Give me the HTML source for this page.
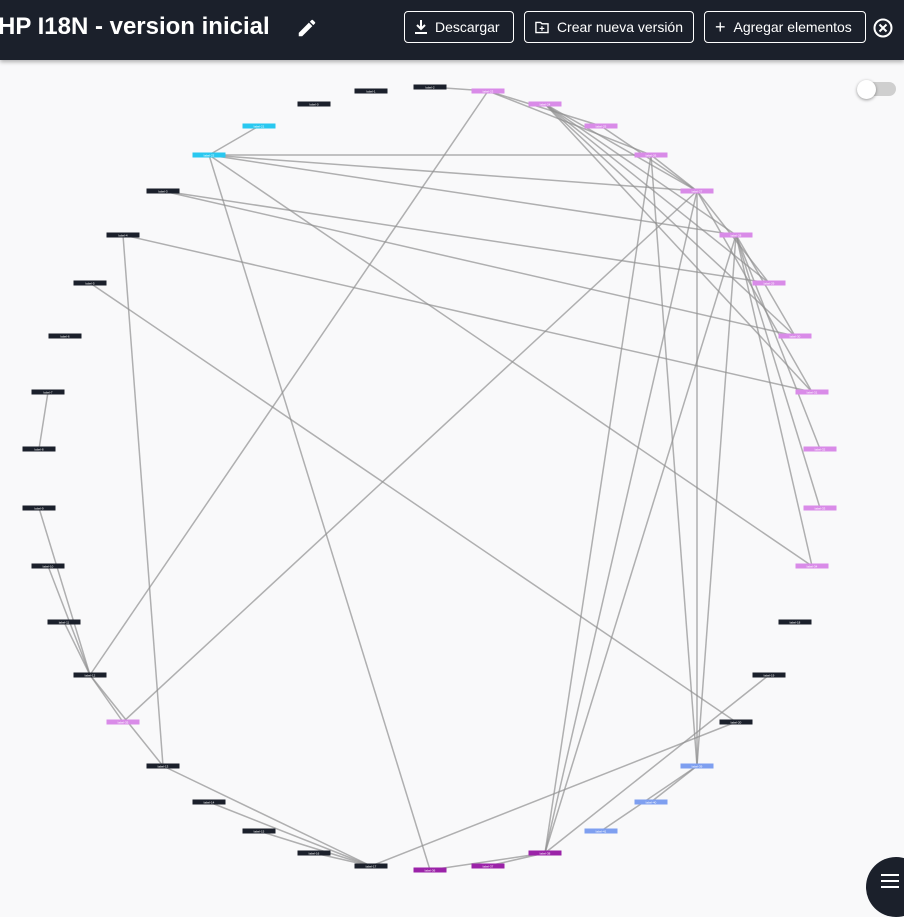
<!DOCTYPE html>
<html><head><meta charset="utf-8"><style>
html,body{margin:0;padding:0;width:904px;height:904px;overflow:hidden;background:#f9f9fa;font-family:"Liberation Sans",sans-serif}
#hdr{position:absolute;left:0;top:0;width:904px;height:60px;background:#1b202b;box-shadow:0 2px 4px rgba(0,0,0,.3)}
#title{position:absolute;left:-2px;top:13px;color:#fff;font-weight:bold;font-size:24px;white-space:nowrap}
.btn{position:absolute;top:11px;height:32px;border:1px solid #fff;border-radius:4px;color:#fff;font-size:14px;box-sizing:border-box;display:flex;align-items:center;padding:0 10px;gap:8px;white-space:nowrap}
#toggle{position:absolute;left:860px;top:82px;width:36px;height:14px;border-radius:7px;background:#cfcfcf}
#knob{position:absolute;left:857px;top:80px;width:19px;height:19px;border-radius:50%;background:#fff;box-shadow:0 1px 3px rgba(0,0,0,.4)}
#menu{position:absolute;left:866px;top:857px;width:60px;height:60px;border-radius:30px;background:#1b202b}
</style></head><body>
<svg id="graph" width="904" height="904" style="position:absolute;left:0;top:0"></svg>
<div id="hdr">
<div id="title">HP I18N - version inicial</div>
<svg style="position:absolute;left:296px;top:17px" width="22" height="22" viewBox="0 0 24 24"><path fill="#fff" d="M3 17.25V21h3.75L17.81 9.94l-3.75-3.75L3 17.25zM20.71 7.04a1 1 0 000-1.41l-2.34-2.34a1 1 0 00-1.41 0l-1.83 1.83 3.75 3.75 1.83-1.83z"/></svg>
<div class="btn" style="left:404px;width:110px"><svg width="12" height="14" viewBox="0 0 12 14"><path d="M6 0v8M2 5l4 4 4-4M0 13h12" stroke="#fff" stroke-width="2" fill="none"/></svg>Descargar</div>
<div class="btn" style="left:524px;width:170px"><svg width="15" height="13" viewBox="0 0 15 13"><path d="M1 1h5l1.5 1.5H14v9.5H1z" stroke="#fff" stroke-width="1.5" fill="none"/><path d="M7.5 5v5M5 7.5h5" stroke="#fff" stroke-width="1.3"/></svg>Crear nueva versión</div>
<div class="btn" style="left:704px;width:162px"><span style="font-size:18px">+</span>Agregar elementos</div>
<svg style="position:absolute;left:872px;top:17px" width="22" height="22" viewBox="0 0 22 22"><circle cx="11" cy="11" r="8.5" fill="none" stroke="#fff" stroke-width="2"/><path d="M7.5 7.5L14.5 14.5M14.5 7.5L7.5 14.5" stroke="#fff" stroke-width="2"/></svg>
</div>
<div id="toggle"></div>
<div id="knob"></div>
<div id="menu"><svg style="position:absolute;left:14px;top:16px" width="20" height="16"><path d="M1 2h18M1 8h18M1 14h18" stroke="#fff" stroke-width="2"/></svg></div>
<script>
const nodeX=[314,371,430,163,123,90,65,48,39,39,48,64,90,163,209,259,314,371,795,769,736,259,209,488,545,601,651,697,736,769,795,812,820,820,812,123,430,488,545,697,651,601];
const nodeY=[104,91,87,191,235,283,336,392,449,508,566,622,675,766,802,831,853,866,622,675,722,126,155,91,104,126,155,191,235,283,336,392,449,508,566,722,870,866,853,766,802,831];
const nodeType=["d","d","d","d","d","d","d","d","d","d","d","d","d","d","d","d","d","d","d","d","d","c","c","p","p","p","p","p","p","p","p","p","p","p","p","p","m","m","m","b","b","b"];
const edgeFrom=[2,23,23,24,24,24,24,22,22,22,22,22,22,3,3,4,4,5,7,10,11,9,12,35,13,14,15,16,17,36,37,38,38,38,38,39,39,41,40,28,28,28,28,27,26,25,24,23,12,27,28];
const edgeTo=[23,12,26,28,27,29,30,21,26,27,28,36,34,29,30,13,31,20,8,12,12,12,13,27,17,17,17,17,20,38,38,26,27,28,19,26,27,39,39,32,33,30,39,29,27,27,31,25,35,31,34];
const colors={d:"#1b202b",c:"#29c8f0",p:"#d98be8",m:"#9b23a8",b:"#7e9ff0"};
const svg=document.getElementById('graph');const NS="http://www.w3.org/2000/svg";
for(let i=0;i<edgeFrom.length;i++){
 const l=document.createElementNS(NS,'line');
 
 
 l.setAttribute('x1',nodeX[edgeFrom[i]]);l.setAttribute('y1',nodeY[edgeFrom[i]]);
 l.setAttribute('x2',nodeX[edgeTo[i]]);l.setAttribute('y2',nodeY[edgeTo[i]]);
 l.setAttribute('stroke','#909090');l.setAttribute('stroke-opacity','0.7');l.setAttribute('stroke-width','1.5');
 svg.appendChild(l);}
for(let i=0;i<nodeX.length;i++){
 const g=document.createElementNS(NS,'g');
 
 
 const r=document.createElementNS(NS,'rect');
 r.setAttribute('x',nodeX[i]-16.5);r.setAttribute('y',nodeY[i]-2.5);r.setAttribute('width',33);r.setAttribute('height',5);
 r.setAttribute('fill',colors[nodeType[i]]);g.appendChild(r);
 const t=document.createElementNS(NS,'text');
 t.setAttribute('x',nodeX[i]);t.setAttribute('y',nodeY[i]+1.3);t.setAttribute('font-size','3');t.setAttribute('fill','#fff');t.setAttribute('text-anchor','middle');
 t.setAttribute('font-family','Liberation Sans, sans-serif');t.textContent='label-'+i;g.appendChild(t);
 svg.appendChild(g);}
</script>
</body></html>
